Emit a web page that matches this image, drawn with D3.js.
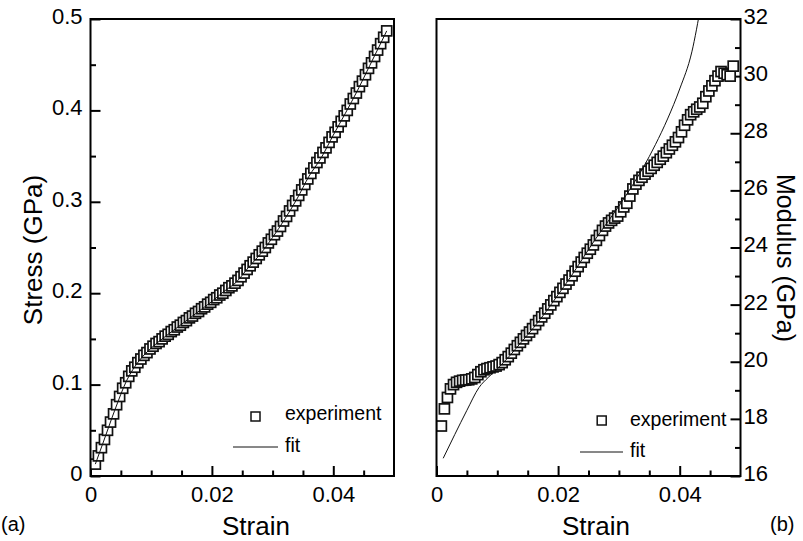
<!DOCTYPE html>
<html><head><meta charset="utf-8">
<script src="https://cdn.jsdelivr.net/npm/d3@7"></script>
<style>
html,body{margin:0;padding:0;background:#fff;}
svg{display:block;font-family:"Liberation Sans",Arial,Helvetica,sans-serif;}
</style></head><body>
<svg id="chart" width="803" height="541"></svg>
<script>
// Measured strain values (shared by both panels)
const strain = [0.0008,0.0013,0.0018,0.0023,0.0028,0.0033,0.0038,0.0043,0.0048,0.0053,
0.0058,0.0063,0.0068,0.0073,0.0078,0.0083,0.0088,0.0093,0.0098,0.0103,
0.0108,0.0113,0.0118,0.0123,0.0128,0.0133,0.0138,0.0143,0.0148,0.0153,
0.0158,0.0163,0.0168,0.0173,0.0178,0.0183,0.0188,0.0193,0.0198,0.0203,
0.0208,0.0213,0.0218,0.0223,0.0228,0.0233,0.0238,0.0243,0.0248,0.0253,
0.0258,0.0263,0.0268,0.0273,0.0278,0.0283,0.0288,0.0293,0.0298,0.0303,
0.0308,0.0313,0.0318,0.0323,0.0328,0.0333,0.0338,0.0343,0.0348,0.0353,
0.0358,0.0363,0.0368,0.0373,0.0378,0.0383,0.0388,0.0393,0.0398,0.0403,
0.0408,0.0413,0.0418,0.0423,0.0428,0.0433,0.0438,0.0443,0.0448,0.0453,
0.0458,0.0463,0.0468,0.0473,0.0478,0.0483,0.0488];

// Stress (GPa), panel (a)
const stress = [0.013,0.022,0.031,0.040,0.050,0.059,0.068,0.078,0.087,0.096,
0.102,0.109,0.115,0.119,0.124,0.128,0.132,0.135,0.139,0.142,
0.145,0.147,0.150,0.153,0.155,0.158,0.160,0.163,0.165,0.168,
0.170,0.173,0.175,0.178,0.180,0.183,0.185,0.188,0.190,0.193,
0.195,0.198,0.200,0.203,0.206,0.208,0.211,0.214,0.218,0.222,
0.226,0.230,0.234,0.238,0.242,0.246,0.250,0.255,0.259,0.264,
0.268,0.273,0.279,0.284,0.290,0.296,0.301,0.307,0.313,0.319,
0.325,0.331,0.337,0.343,0.348,0.354,0.359,0.365,0.371,0.376,
0.382,0.388,0.394,0.400,0.407,0.413,0.419,0.426,0.432,0.439,
0.446,0.452,0.459,0.466,0.473,0.480,0.487];

// Modulus (GPa), panel (b)
const modulus = [17.75,18.35,18.75,19.05,19.20,19.28,19.32,19.35,19.36,19.37,
19.40,19.45,19.55,19.65,19.72,19.76,19.79,19.82,19.85,19.90,
19.97,20.07,20.18,20.30,20.43,20.56,20.68,20.80,20.92,21.04,
21.16,21.30,21.44,21.57,21.70,21.85,21.99,22.14,22.28,22.43,
22.57,22.72,22.86,23.01,23.17,23.33,23.49,23.65,23.80,23.94,
24.09,24.25,24.42,24.60,24.75,24.86,24.95,25.03,25.10,25.25,
25.42,25.55,25.80,26.05,26.22,26.35,26.46,26.57,26.67,26.77,
26.88,26.98,27.09,27.20,27.32,27.45,27.58,27.70,27.85,28.05,
28.28,28.47,28.65,28.75,28.84,28.92,29.05,29.28,29.48,29.66,
29.84,30.00,30.16,30.10,30.05,30.00,30.35];

// Fitted curves
const fitStrainA = [0.0008,0.002,0.004,0.006,0.008,0.010,0.012,0.014,0.016,0.018,0.020,0.022,0.024,
0.026,0.028,0.030,0.032,0.034,0.036,0.038,0.040,0.042,0.044,0.046,0.048,0.0488];
const fitStress = [0.013,0.035,0.072,0.105,0.126,0.140,0.151,0.161,0.171,0.181,0.191,0.202,0.212,
0.228,0.243,0.261,0.281,0.303,0.328,0.348,0.373,0.397,0.422,0.449,0.476,0.487];
const fitStrainB = [0.0011,0.003,0.005,0.007,0.0085,0.010,0.012,0.014,0.016,0.018,0.020,0.022,0.024,
0.026,0.028,0.030,0.032,0.034,0.036,0.038,0.040,0.042,0.0435];
const fitModulus = [16.62,17.45,18.3,19.1,19.45,19.75,20.2,20.7,21.2,21.75,22.35,22.95,23.6,
24.25,24.85,25.45,26.1,26.8,27.6,28.5,29.55,30.85,32.5];

// Tick values
const strainTicks = [0, 0.02, 0.04];
const strainMinor = [0.005,0.01,0.015,0.025,0.03,0.035,0.045];
const stressTicks = [0, 0.1, 0.2, 0.3, 0.4, 0.5];
const stressMinor = [0.05,0.15,0.25,0.35,0.45];
const modulusTicks = [16, 18, 20, 22, 24, 26, 28, 30, 32];
const modulusMinor = [17, 19, 21, 23, 25, 27, 29, 31];
const legendLabels = ["experiment", "fit"];

const svg = d3.select("#chart");
const plotTop = 19, plotBottom = 476;
const fmtStrain = d => d === 0 ? "0" : d3.format(".2f")(d);
const fmtStress = d => d === 0 ? "0" : d3.format(".1f")(d);

const panels = [
  {x: d3.scaleLinear().domain([0, 0.05]).range([90.5, 394]),
   y: d3.scaleLinear().domain([0, 0.5]).range([plotBottom, plotTop]),
   vals: stress, fx: fitStrainA, fy: fitStress, yTicks: stressTicks, yMinor: stressMinor,
   side: "left", fmt: fmtStress, legend: {sq: [255.5, 416.5], tx: 285, ty1: 420, line: [233, 278, 447], ty2: 452},
   title: "Stress (GPa)", titleX: 256, clip: "clipA"},
  {x: d3.scaleLinear().domain([0, 0.05]).range([436.5, 740.5]),
   y: d3.scaleLinear().domain([16, 32]).range([plotBottom, plotTop]),
   vals: modulus, fx: fitStrainB, fy: fitModulus, yTicks: modulusTicks, yMinor: modulusMinor,
   side: "right", fmt: d3.format("d"), legend: {sq: [601.7, 420.5], tx: 630, ty1: 426, line: [580, 623, 452], ty2: 457},
   title: "Modulus (GPa)", titleX: 596, clip: "clipB"}
];

const defs = svg.append("defs");

function styleAxis(g, fs) {
  g.select(".domain").remove();
  g.selectAll("line").attr("stroke", "#000").attr("stroke-width", 2);
  g.selectAll("text").attr("font-family", "Liberation Sans, Arial, sans-serif")
    .attr("font-size", fs).attr("fill", "#000");
}

panels.forEach(p => {
  const [x0, x1] = p.x.range();
  defs.append("clipPath").attr("id", p.clip).append("rect")
    .attr("x", x0).attr("y", plotTop).attr("width", x1 - x0).attr("height", plotBottom - plotTop);

  // x axis: major + minor ticks pointing inward
  svg.append("g").attr("transform", `translate(0,${plotBottom})`)
    .call(d3.axisBottom(p.x).tickValues(strainTicks).tickFormat(fmtStrain)
      .tickSizeInner(-10).tickSizeOuter(0).tickPadding(10.5))
    .call(g => styleAxis(g, 22));
  svg.append("g").attr("transform", `translate(0,${plotBottom})`)
    .call(d3.axisBottom(p.x).tickValues(strainMinor).tickFormat("")
      .tickSizeInner(-5.5).tickSizeOuter(0))
    .call(g => styleAxis(g, 22));

  // y axis
  const yx = p.side === "left" ? x0 : x1;
  const mk = p.side === "left" ? d3.axisLeft : d3.axisRight;
  svg.append("g").attr("transform", `translate(${yx},0)`)
    .call(mk(p.y).tickValues(p.yTicks).tickFormat(p.fmt)
      .tickSizeInner(-10).tickSizeOuter(0).tickPadding(p.side === "left" ? 8 : 3))
    .call(g => styleAxis(g, 22))
    .call(g => g.selectAll("text").attr("dy", "0.2em"));
  svg.append("g").attr("transform", `translate(${yx},0)`)
    .call(mk(p.y).tickValues(p.yMinor).tickFormat("").tickSizeInner(-5.5).tickSizeOuter(0))
    .call(g => styleAxis(g, 22));

  // experimental points: white-filled open squares
  const s = 10;
  svg.append("g").attr("clip-path", `url(#${p.clip})`)
    .selectAll("rect").data(strain.map((e, i) => [e, p.vals[i]])).join("rect")
    .attr("x", d => p.x(d[0]) - s / 2).attr("y", d => p.y(d[1]) - s / 2)
    .attr("width", s).attr("height", s)
    .attr("fill", "#fff").attr("stroke", "#111").attr("stroke-width", 1.7);

  // fitted curve
  svg.append("path").attr("clip-path", `url(#${p.clip})`)
    .datum(p.fx.map((e, i) => [e, p.fy[i]]))
    .attr("fill", "none").attr("stroke", "#111").attr("stroke-width", 1)
    .attr("d", d3.line().x(d => p.x(d[0])).y(d => p.y(d[1])).curve(d3.curveMonotoneX));

  // frame
  svg.append("rect").attr("x", x0).attr("y", plotTop).attr("width", x1 - x0).attr("height", plotBottom - plotTop)
    .attr("fill", "none").attr("stroke", "#000").attr("stroke-width", 2);

  // legend
  const L = p.legend;
  svg.append("rect").attr("x", L.sq[0] - 4.5).attr("y", L.sq[1] - 4.5).attr("width", 9).attr("height", 9)
    .attr("fill", "#fff").attr("stroke", "#111").attr("stroke-width", 1.5);
  svg.append("text").attr("x", L.tx).attr("y", L.ty1).attr("font-size", 19.5).text(legendLabels[0]);
  svg.append("line").attr("x1", L.line[0]).attr("x2", L.line[1]).attr("y1", L.line[2]).attr("y2", L.line[2])
    .attr("stroke", "#111").attr("stroke-width", 1);
  svg.append("text").attr("x", L.tx).attr("y", L.ty2).attr("font-size", 19.5).text(legendLabels[1]);

  // x title
  svg.append("text").attr("x", p.titleX).attr("y", 535).attr("text-anchor", "middle")
    .attr("font-size", 26).text("Strain");
});

// y titles
svg.append("text").attr("transform", "translate(42,250) rotate(-90)").attr("text-anchor", "middle")
  .attr("font-size", 26).text(panels[0].title);
svg.append("text").attr("transform", "translate(777,258) rotate(90)").attr("text-anchor", "middle")
  .attr("font-size", 25).text(panels[1].title);

// panel tags
svg.append("text").attr("x", 1).attr("y", 531).attr("font-size", 20).text("(a)");
svg.append("text").attr("x", 770).attr("y", 531).attr("font-size", 20).text("(b)");
</script>
</body></html>
